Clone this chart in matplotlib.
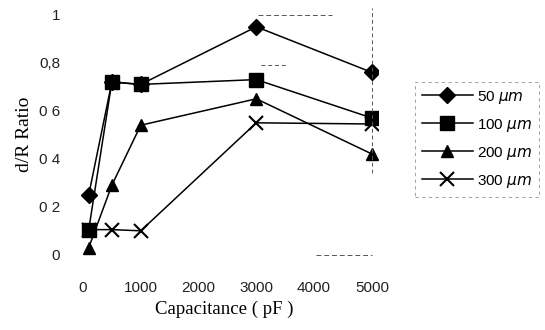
import matplotlib.pyplot as plt

cap = [100, 500, 1000, 3000, 5000]
r50 = [0.25, 0.72, 0.71, 0.95, 0.76]
r100 = [0.105, 0.72, 0.71, 0.73, 0.57]
r200 = [0.03, 0.29, 0.54, 0.65, 0.42]
r300 = [0.105, 0.105, 0.10, 0.55, 0.545]

xticks = [0, 1000, 2000, 3000, 4000, 5000]
yticks = [0, 0.2, 0.4, 0.6, 0.8, 1.0]
ylabels = ["0", "0 2", "0 4", "0 6", "0,8", "1"]

sans = "Liberation Sans"
serif = "Liberation Serif"

fig = plt.figure(figsize=(5.45, 3.3), dpi=100)
ax = fig.add_axes([0.131, 0.206, 0.562, 0.771])

ax.plot(cap, r50, color="black", lw=1.1, marker="D", ms=8, label=r"50 $\mathit{\mu m}$")
ax.plot(cap, r200, color="black", lw=1.1, marker="^", ms=9, label=r"200 $\mathit{\mu m}$")
ax.plot(cap, r300, color="black", lw=1.1, marker="x", ms=10, mew=1.5, label=r"300 $\mathit{\mu m}$")
ax.plot(cap, r100, color="black", lw=1.1, marker="s", ms=10, label=r"100 $\mathit{\mu m}$")

ax.set_xlim(-200, 5100)
ax.set_ylim(-0.03, 1.03)
ax.set_xticks(xticks)
ax.set_xticklabels([str(t) for t in xticks], fontfamily=sans, fontsize=11)
ax.set_yticks(yticks)
ax.set_yticklabels(ylabels, fontfamily=sans, fontsize=11)
ax.tick_params(axis="both", length=0, colors="#222222")
ax.tick_params(axis="x", pad=14)
ax.tick_params(axis="y", pad=8)

for s in ["left", "top", "bottom"]:
    ax.spines[s].set_visible(False)
ax.spines["right"].set_visible(False)

# faint dashed fragments of the scanned frame
ax.axvline(5000, ymin=0.35, ymax=1.0, color="#555555", lw=0.7, ls=(0, (4, 3)))
ax.axhline(1.0, xmin=0.61, xmax=0.85, color="#555555", lw=0.7, ls=(0, (5, 3)))
ax.axhline(0.79, xmin=0.62, xmax=0.7, color="#555555", lw=0.7, ls=(0, (4, 3)))
ax.axhline(0.0, xmin=0.8, xmax=0.98, color="#555555", lw=0.7, ls=(0, (5, 3)))

ax.set_xlabel("Capacitance ( pF )", fontfamily=serif, fontsize=13.5, labelpad=4)
ax.set_ylabel("d/R Ratio", fontfamily=serif, fontsize=14, labelpad=4)

h, l = ax.get_legend_handles_labels()
order = [0, 3, 1, 2]
leg = fig.legend([h[i] for i in order], [l[i] for i in order],
                 loc="upper left", bbox_to_anchor=(0.748, 0.775),
                 frameon=True, fancybox=False, handlelength=3.3,
                 handletextpad=0.3, labelspacing=0.72, borderpad=0.45,
                 prop={"family": sans, "size": 11})
leg.get_frame().set_edgecolor("#777777")
leg.get_frame().set_linestyle((0, (4, 4)))
leg.get_frame().set_linewidth(0.6)

fig.savefig("out.png", dpi=100)
